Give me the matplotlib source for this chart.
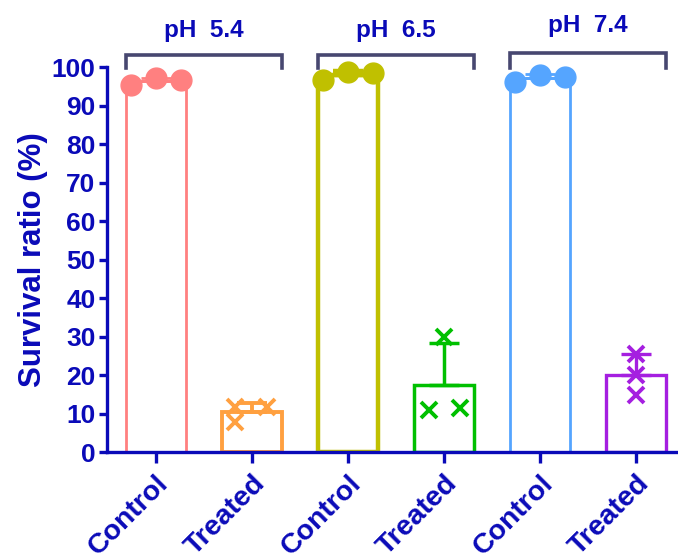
import numpy as np
import matplotlib
matplotlib.use('Agg')
import matplotlib.pyplot as plt

plt.rcParams['font.family'] = ['Liberation Sans', 'DejaVu Sans']
plt.rcParams['font.weight'] = 'bold'

# data
labels = ['Control', 'Treated', 'Control', 'Treated', 'Control', 'Treated']
groups = ['pH  5.4', 'pH  6.5', 'pH  7.4']
ctrl_54 = [95.4, 97.1, 96.7]
trt_54 = [11.8, 7.8, 11.6]
ctrl_65 = [96.7, 98.9, 98.4]
trt_65 = [30.0, 10.9, 11.4]
ctrl_74 = [96.3, 98.0, 97.6]
trt_74 = [25.5, 14.8, 20.0]
series = [ctrl_54, trt_54, ctrl_65, trt_65, ctrl_74, trt_74]

# point x offsets within each bar
ctrl_offsets = [-0.26, 0.0, 0.26]
trt_offsets = {1: [-0.17, -0.17, 0.16], 3: [0.0, -0.16, 0.17], 5: [0.0, 0.0, 0.0]}

colors = ['#FF8080', '#FFA040', '#C0C000', '#00C000', '#55A5FF', '#A51FE0']
edge_w = [2.0, 2.8, 3.2, 2.5, 2.0, 2.4]
axis_blue = '#0A0AB8'
bracket_col = '#474770'

fig = plt.figure(figsize=(6.78, 5.59), dpi=100)
ax = fig.add_axes([0.1574, 0.1914, 0.8426, 0.6882])

x = np.arange(len(series))
for i, vals in enumerate(series):
    m = np.mean(vals)
    sd = np.std(vals, ddof=1)
    c = colors[i]
    ax.bar(x[i], m, width=0.62, facecolor='white', edgecolor=c,
           linewidth=edge_w[i], zorder=2)
    ax.errorbar(x[i], m, yerr=[[0], [sd]], color=c, capsize=11,
                elinewidth=edge_w[i], capthick=edge_w[i], zorder=3)
    if i % 2 == 0:
        xs = x[i] + np.array(ctrl_offsets)
        ax.plot(xs, vals, 'o', color=c, markersize=15, zorder=4,
                clip_on=False)
    else:
        xs = x[i] + np.array(trt_offsets[i])
        ax.plot(xs, vals, 'x', color=c, markersize=11, mew=2.8, zorder=4,
                clip_on=False)

# group brackets
for g, name in enumerate(groups):
    x0 = 2 * g - 0.31
    x1 = 2 * g + 1 + 0.31
    yb = 103.1 if g < 2 else 103.6
    ax.plot([x0, x0, x1, x1], [99.7, yb, yb, 99.7], color=bracket_col,
            lw=2.6, clip_on=False, solid_joinstyle='miter')
    ax.text((x0 + x1) / 2, yb + 3.6 + (0.6 if g == 2 else 0), name,
            ha='center', va='bottom', fontsize=17.5, fontweight='bold',
            color=axis_blue)

ax.set_xlim(-0.51, 5.435)
ax.set_ylim(0, 100)
ax.set_yticks(range(0, 101, 10))
ax.set_xticks(x)
ax.set_xticklabels(labels, rotation=45, ha='right', rotation_mode='anchor')

for s in ['top', 'right']:
    ax.spines[s].set_visible(False)
for s in ['left', 'bottom']:
    ax.spines[s].set_color(axis_blue)
    ax.spines[s].set_linewidth(2.4)

ax.tick_params(axis='y', colors=axis_blue, width=2.4, length=6,
               labelsize=19, pad=2)
ax.tick_params(axis='x', colors=axis_blue, width=2.4, length=8,
               labelsize=20.5, pad=5)
for t in ax.get_xticklabels() + ax.get_yticklabels():
    t.set_fontweight('bold')

ax.set_ylabel('Survival ratio (%)', fontsize=22.5, fontweight='bold',
              color=axis_blue, labelpad=3)

fig.savefig('out.png', dpi=100)
